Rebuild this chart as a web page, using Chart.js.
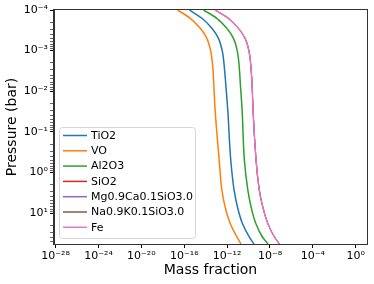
<!DOCTYPE html>
<html>
<head>
<meta charset="utf-8">
<script src="https://cdn.jsdelivr.net/npm/chart.js@4"></script>
<style>
  html, body { margin: 0; padding: 0; background: #fff; }
  canvas { display: block; }
</style>
</head>
<body>
<canvas id="chart" width="374" height="284"></canvas>
<script>
// pressure grid (bar), shared by every curve
const pressure = [1e-4, 1.6e-4, 2.82e-4, 4.98e-4, 1.06e-3, 2.73e-3, 7.03e-3, 2.9e-2, 0.495, 2.71, 7.0, 17.9, 38.4, 58]

// mass fraction
const tio2Values = [3.09e-16, 4.47e-15, 3.8e-14, 1.55e-13, 3.63e-13, 5.62e-13, 7.59e-13, 1.15e-12, 2.19e-12, 4.47e-12, 9.12e-12, 2.63e-11, 1.12e-10, 3.24e-10]
const voValues = [2.4e-17, 3.63e-16, 3.09e-15, 1.29e-14, 3.02e-14, 4.68e-14, 5.75e-14, 7.6e-14, 1.82e-13, 3.24e-13, 6.46e-13, 1.91e-12, 7.94e-12, 2.0e-11]
const al2o3Values = [6.31e-15, 1.1e-13, 9.33e-13, 3.89e-12, 9.12e-12, 1.38e-11, 1.74e-11, 2.51e-11, 4.07e-11, 8.51e-11, 1.7e-10, 4.68e-10, 1.91e-9, 6.46e-9]
// SiO2, Mg..., Na... sit underneath the Fe curve
const sio2Values = [7.6e-14, 1.32e-12, 1.12e-11, 4.68e-11, 1.12e-10, 1.7e-10, 2.14e-10, 2.63e-10, 5.01e-10, 1.0e-9, 2.09e-9, 6.17e-9, 2.51e-8, 7.59e-8]
const mgsio3Values = [7.6e-14, 1.32e-12, 1.12e-11, 4.68e-11, 1.12e-10, 1.7e-10, 2.14e-10, 2.63e-10, 5.01e-10, 1.0e-9, 2.09e-9, 6.17e-9, 2.51e-8, 7.59e-8]
const nasio3Values = [7.6e-14, 1.32e-12, 1.12e-11, 4.68e-11, 1.12e-10, 1.7e-10, 2.14e-10, 2.63e-10, 5.01e-10, 1.0e-9, 2.09e-9, 6.17e-9, 2.51e-8, 7.59e-8]
const feValues = [7.6e-14, 1.32e-12, 1.12e-11, 4.68e-11, 1.12e-10, 1.7e-10, 2.14e-10, 2.63e-10, 5.01e-10, 1.0e-9, 2.09e-9, 6.17e-9, 2.51e-8, 7.59e-8]

const species = ['TiO2', 'VO', 'Al2O3', 'SiO2', 'Mg0.9Ca0.1SiO3.0', 'Na0.9K0.1SiO3.0', 'Fe']
const seriesValues = [tio2Values, voValues, al2o3Values, sio2Values, mgsio3Values, nasio3Values, feValues]
const colors = ['#1f77b4', '#ff7f0e', '#2ca02c', '#d62728', '#9467bd', '#8c564b', '#e377c2']
const hiddenUnderFe = ['SiO2', 'Mg0.9Ca0.1SiO3.0', 'Na0.9K0.1SiO3.0']

// tick exponents
const xTickExps = [-28, -24, -20, -16, -12, -8, -4, 0]
const yTickExps = [-4, -3, -2, -1, 0, 1]

const sup = { '-': '\u207B', '0': '\u2070', '1': '\u00B9', '2': '\u00B2', '3': '\u00B3', '4': '\u2074', '5': '\u2075', '6': '\u2076', '7': '\u2077', '8': '\u2078', '9': '\u2079' }
function powLabel(exp) {
    return '10' + String(exp).split('').map(c => sup[c]).join('')
}

Chart.defaults.font.family = 'DejaVu Sans'
Chart.defaults.color = '#000'

//Legend box drawn inside the plot, like matplotlib
const boxLegend = {
    id: 'boxLegend',
    afterDraw(chart) {
        const ctx = chart.ctx
        const x = 59, y = 127, w = 136, h = 111
        ctx.save()
        ctx.beginPath()
        ctx.roundRect(x + 0.5, y + 0.5, w, h, 3)
        ctx.fillStyle = 'rgba(255,255,255,0.8)'
        ctx.fill()
        ctx.strokeStyle = '#d5d5d5'
        ctx.lineWidth = 1
        ctx.stroke()
        ctx.font = '11px "DejaVu Sans"'
        ctx.textBaseline = 'middle'
        chart.data.datasets.forEach((ds, i) => {
            const ry = 135.5 + i * 15.3
            ctx.strokeStyle = ds.borderColor
            ctx.lineWidth = 1.5
            ctx.beginPath()
            ctx.moveTo(63, ry)
            ctx.lineTo(87, ry)
            ctx.stroke()
            ctx.fillStyle = '#000'
            ctx.fillText(ds.label, 91, ry + 0.5)
        })
        ctx.restore()
    }
}

//Top and right spines
const frame = {
    id: 'frame',
    afterDatasetsDraw(chart) {
        const a = chart.chartArea
        const ctx = chart.ctx
        ctx.save()
        ctx.strokeStyle = '#333'
        ctx.lineWidth = 1
        ctx.strokeRect(Math.round(a.left) - 0.5, Math.round(a.top) - 0.5, Math.round(a.right - a.left) + 1, Math.round(a.bottom - a.top) + 1)
        ctx.restore()
    }
}

const datasets = species.map((name, i) => ({
    label: name,
    data: pressure.map((p, k) => ({ x: seriesValues[i][k], y: p })),
    borderColor: colors[i],
    backgroundColor: colors[i],
    borderWidth: hiddenUnderFe.includes(name) ? 1 : 1.5,
    pointRadius: 0,
    cubicInterpolationMode: 'monotone',
    order: species.length - i,   // later series on top, like matplotlib
    fill: false
}))

new Chart(document.getElementById('chart'), {
    type: 'line',
    data: { datasets: datasets },
    options: {
        indexAxis: 'y',
        responsive: false,
        animation: false,
        devicePixelRatio: 1,
        layout: { padding: { top: 10, right: 7, left: 0, bottom: 0 } },
        plugins: {
            legend: { display: false },
            tooltip: { enabled: false }
        },
        scales: {
            x: {
                type: 'logarithmic',
                min: Math.pow(10, -28.15),
                max: Math.pow(10, 1.05),
                afterBuildTicks: scale => {
                    scale.ticks = xTickExps.map(e => ({ value: Math.pow(10, e) }))
                },
                afterFit: scale => { scale.height = 40 },
                ticks: {
                    autoSkip: false,
                    maxRotation: 0,
                    padding: 2,
                    font: { size: 11 },
                    callback: (v, i) => powLabel(xTickExps[i])
                },
                grid: { display: true, drawOnChartArea: false, drawTicks: true, tickLength: 4, tickColor: '#000', tickWidth: 1 },
                border: { display: true, color: '#333', width: 1 },
                title: { display: true, text: 'Mass fraction', font: { size: 14 }, padding: { top: 0, bottom: 5 } }
            },
            y: {
                type: 'logarithmic',
                reverse: true,
                min: 1e-4,
                max: 58,
                afterBuildTicks: scale => {
                    const ticks = []
                    yTickExps.forEach(e => {
                        for (let m = 1; m <= 9; m++) {
                            const v = m * Math.pow(10, e)
                            if (v <= 58) ticks.push({ value: v, major: m === 1 })
                        }
                    })
                    scale.ticks = ticks
                },
                afterFit: scale => { scale.width = 54 },
                ticks: {
                    autoSkip: false,
                    padding: 2,
                    font: { size: 11 },
                    callback: v => {
                        const e = Math.round(Math.log10(v))
                        return Math.abs(v / Math.pow(10, e) - 1) < 1e-6 ? powLabel(e) : ''
                    }
                },
                grid: {
                    display: true, drawOnChartArea: false, drawTicks: true, tickLength: 4,
                    tickColor: '#000',
                    tickWidth: ctx => (ctx.tick && ctx.tick.major) ? 1 : 0.6
                },
                border: { display: true, color: '#333', width: 1 },
                title: { display: true, text: 'Pressure (bar)', font: { size: 14 }, padding: { top: 4, bottom: 0 } }
            }
        }
    },
    plugins: [frame, boxLegend]
})
</script>
</body>
</html>
